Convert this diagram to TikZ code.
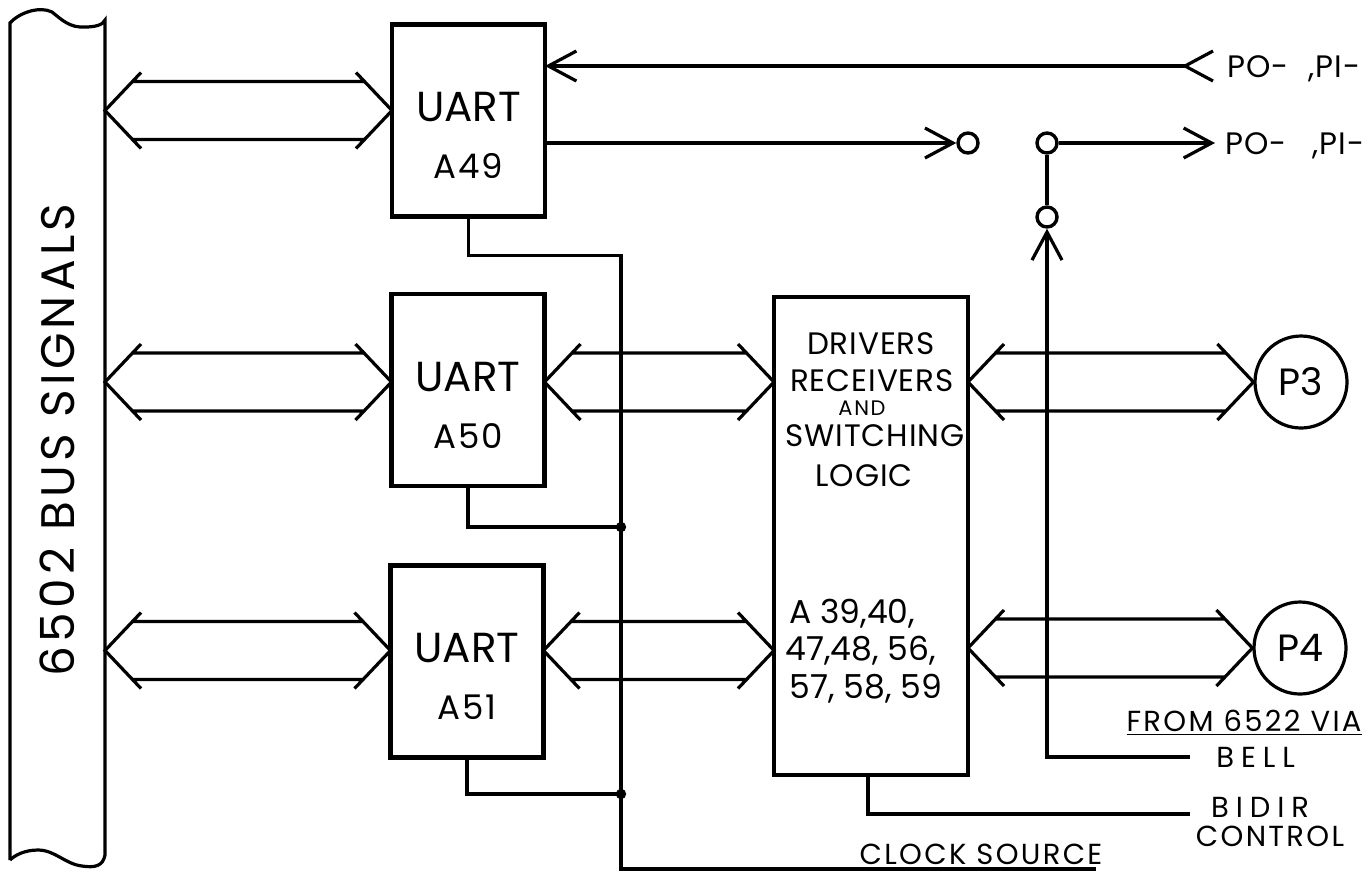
\documentclass[tikz,border=0pt]{standalone}
\usepackage{fontspec}
\setmainfont{Poppins}
\usetikzlibrary{arrows.meta,positioning,calc}
\newcommand{\bus}[2]{%
  \draw[wire] let \p1=#1, \p2=#2 in
    (\x1+18pt,\y1+19pt) -- (\x1,\y1) -- (\x1+18pt,\y1-19pt)
    (\x2-18pt,\y2+19pt) -- (\x2,\y2) -- (\x2-18pt,\y2-19pt)
    (\x1+13.7pt,\y1+14.5pt) -- (\x2-13.7pt,\y2+14.5pt)
    (\x1+13.7pt,\y1-14.5pt) -- (\x2-13.7pt,\y2-14.5pt);}
\begin{document}
\begin{tikzpicture}[x=0.5pt,y=-0.5pt,
  wire/.style={line width=1.6pt},
  sig/.style={wire,-{Straight Barb[length=14pt,width=15pt]}},
  box/.style={draw,line width=2.1pt,outer sep=0pt,minimum width=76.5pt},
  uart/.style={box,minimum height=96pt},
  port/.style={draw,circle,line width=1.6pt,minimum size=46pt,inner sep=0pt,font=\fontsize{19}{22}\selectfont},
  pin/.style={draw,circle,line width=1.7pt,minimum size=10pt,inner sep=0pt},
  lbl/.style={inner sep=0pt,font=\fontsize{15.5}{18}\selectfont\addfontfeatures{LetterSpace=3}},
  notetxt/.style={inner sep=0pt,font=\fontsize{14.5}{17}\selectfont\addfontfeatures{LetterSpace=8}},
  wide/.style={notetxt,font=\fontsize{14.5}{17}\selectfont\addfontfeatures{LetterSpace=24}}]
\useasboundingbox (0,0) rectangle (1368,874);

\node[minimum width=47.5pt,minimum height=420pt,outer sep=0pt] (bus) at (57.5,440) {};
\draw[wire] (10,860) -- (10,23) .. controls (20,12) and (40,6) .. (52,12)
  .. controls (62,20) and (70,28) .. (85,27) .. controls (95,27) and (103,25) .. (105,20)
  -- (105,855) .. controls (103,866) and (95,868) .. (82,866)
  .. controls (65,864) and (55,850) .. (38,850) .. controls (25,850) and (15,855) .. (10,860);
\node[rotate=90,font=\fontsize{23.5}{26}\selectfont\addfontfeatures{LetterSpace=9}] at (bus) {6502 BUS SIGNALS};

\node[uart] (a49) at (468.5,120.5) {};
\node[uart] (a50) at (468,390) {};
\node[uart] (a51) at (467,661.5) {};
\foreach \n in {49,50,51}
  \path (a\n.center) node[inner sep=0pt,font=\fontsize{21}{24}\selectfont,anchor=base,yshift=-0.5pt] {UART}
        node[inner sep=0pt,font=\fontsize{17}{20}\selectfont\addfontfeatures{LetterSpace=6},anchor=base,yshift=-29pt] {A\n};
\coordinate (r49) at ([yshift=5pt]a49.west);
\coordinate (r50) at ([yshift=4pt]a50.west);
\coordinate (r51) at ([yshift=5.5pt]a51.west);

\node[box,minimum width=97pt,minimum height=239pt] (drv) at (871,536) {};
\foreach \t/\x/\y in {DRIVERS/871/354,RECEIVERS/872/391,SWITCHING/875/446,LOGIC/864/486}
  \node[lbl,anchor=base] at (\x,\y) {\t};
\node[inner sep=0pt,font=\fontsize{10.5}{12}\selectfont\addfontfeatures{LetterSpace=8},anchor=base] at (862,415) {AND};
\node[lbl,anchor=base west,font=\fontsize{16.5}{19}\selectfont] at (789,623) {A 39,40,};
\node[lbl,anchor=base west,font=\fontsize{16.5}{19}\selectfont] at (785,660) {47,48, 56,};
\node[lbl,anchor=base west,font=\fontsize{16.5}{19}\selectfont] at (789,698) {57, 58, 59};

\node[port] (p3) at (1301,382) {P3};
\node[port] (p4) at (1300,648) {P4};

\bus{(bus.east |- r49)}{(r49)}
\bus{(bus.east |- r50)}{(r50)}
\bus{(bus.east |- r51)}{(r51)}
\bus{(a50.east |- r50)}{(drv.west |- r50)}
\bus{(a51.east |- r51)}{(drv.west |- r51)}
\bus{(drv.east |- p3)}{(p3.west)}
\bus{(drv.east |- p4)}{(p4.west)}

\coordinate (pin1) at (1185,66);
\draw[sig] (pin1) -- (a49.east |- pin1);
\draw[wire] ([shift={(14pt,7.5pt)}]pin1) -- (pin1) -- ([shift={(14pt,-7.5pt)}]pin1);
\node[lbl,anchor=base west] at ([shift={(21pt,-5.5pt)}]pin1) {PO-\hspace{10pt},PI-};

\node[pin] (c1) at (968,143) {};
\node[pin] (c2) at (1047,143) {};
\node[pin] (c3) at (1047,217) {};
\coordinate (pout) at (1215,143);
\draw[sig] (a49.east |- c1) -- (c1);
\draw[sig] (c2) -- (pout);
\node[lbl,anchor=base west] at ([shift={(5pt,-5.5pt)}]pout) {PO-\hspace{13pt},PI-};
\draw[wire] (c2) -- (c3);
\coordinate (bell) at (1190,757);
\draw[sig] (bell) -| (c3);
\node[wide,right=13pt of bell] {BELL};
\node[notetxt,anchor=base] at (1244,731) {\underline{FROM 6522 VIA}};

\coordinate (bidir) at (1190,814);
\draw[wire] ([xshift=-1.5pt]drv.south) |- (bidir);
\node[wide,anchor=base] at (1260,817) {BIDIR};
\node[notetxt,anchor=base] at (1270,846) {CONTROL};

\coordinate (j1) at (621,527);
\coordinate (j2) at (621,794);
\coordinate (clk) at (1096,869);
\draw[wire] (a49.south) -- ++(0,39) -| (j1) -- (j2) |- (clk);
\draw[wire] (a50.south) |- (j1) (a51.south) |- (j2);
\fill (j1) circle[radius=2.6pt] (j2) circle[radius=2.6pt];
\node[notetxt,anchor=base] at (981,864) {CLOCK SOURCE};
\end{tikzpicture}
\end{document}
